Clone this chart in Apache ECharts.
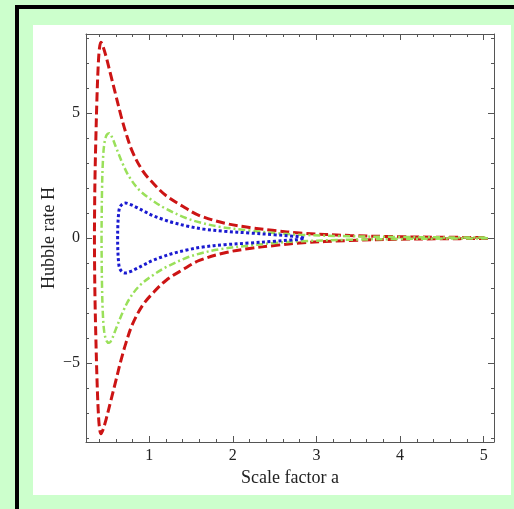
<!DOCTYPE html>
<html>
<head>
<meta charset="utf-8">
<title>Hubble rate vs scale factor</title>
<script src="https://cdn.jsdelivr.net/npm/echarts@6/dist/echarts.min.js"></script>
<style>
  html, body { margin: 0; padding: 0; background: #ccffcc; }
  #main { width: 514px; height: 509px; }
</style>
</head>
<body>
<div id="main"></div>
<script>
// upper branches (H >= 0), lower branches are the mirror image
var redA   = [0.345, 0.347, 0.352, 0.362, 0.375, 0.39, 0.405, 0.423, 0.45, 0.483, 0.542, 0.602, 0.662, 0.722, 0.80, 0.92, 1.04, 1.2, 1.4, 1.6, 1.92, 2.2, 2.5, 2.8, 3.4, 4.0, 4.5, 5.05];
var redH   = [0, 1.2, 2.5, 4.0, 5.6, 6.9, 7.6, 7.84, 7.65, 7.28, 6.5, 5.7, 4.9, 4.2, 3.45, 2.7, 2.22, 1.7, 1.27, 0.9, 0.58, 0.42, 0.3, 0.2, 0.1, 0.05, 0.03, 0.02];

var greenA = [0.430, 0.432, 0.436, 0.445, 0.462, 0.49, 0.522, 0.56, 0.602, 0.682, 0.761, 0.881, 1.04, 1.2, 1.44, 1.61, 1.84, 2.2, 2.5, 2.8, 3.4, 4.0, 4.5, 5.05];
var greenH = [0, 1.0, 2.0, 3.0, 3.75, 4.12, 4.2, 4.0, 3.64, 2.98, 2.45, 1.92, 1.5, 1.17, 0.8, 0.62, 0.45, 0.3, 0.2, 0.13, 0.07, 0.04, 0.025, 0.015];

var blueA  = [0.622, 0.625, 0.632, 0.645, 0.675, 0.715, 0.77, 0.84, 0.94, 1.04, 1.16, 1.28, 1.45, 1.64, 1.9, 2.2, 2.5, 2.7, 2.8, 2.85];
var blueH  = [0, 0.5, 0.9, 1.2, 1.35, 1.40, 1.35, 1.24, 1.07, 0.9, 0.75, 0.62, 0.48, 0.36, 0.27, 0.2, 0.13, 0.08, 0.045, 0];

var xMajor = [1, 2, 3, 4, 5];
var xMinor = [0.4, 0.6, 0.8, 1.2, 1.4, 1.6, 1.8, 2.2, 2.4, 2.6, 2.8, 3.2, 3.4, 3.6, 3.8, 4.2, 4.4, 4.6, 4.8, 5.0];
var yMajor = [-5, 0, 5];
var yMinor = [-8, -7, -6, -4, -3, -2, -1, 1, 2, 3, 4, 6, 7, 8];

var xLabel = 'Scale factor a';
var yLabel = 'Hubble rate H';

// open curves: lower branch back to a_min, then upper branch out again
function openCurve(a, h) {
    var pts = [];
    for (var i = a.length - 1; i >= 0; i--) pts.push([a[i], -h[i]]);
    for (var j = 1; j < a.length; j++) pts.push([a[j], h[j]]);
    return pts;
}
// closed loop, same idea (the last point of a and h is the tip at H = 0)
function closedCurve(a, h) {
    var pts = [];
    for (var i = a.length - 1; i >= 0; i--) pts.push([a[i], h[i]]);
    for (var j = 1; j < a.length; j++) pts.push([a[j], -h[j]]);
    return pts;
}

var myChart = echarts.init(document.getElementById('main'));

var font = 'Liberation Serif';
var frameColor = '#555';

function xAxisDef(pos, ticks, len, withLine, withLabel) {
    return {
        type: 'value', position: pos, min: 0.244, max: 5.123,
        axisLine: { show: withLine, onZero: false, lineStyle: { color: frameColor, width: 1 } },
        axisTick: { show: true, inside: true, length: len, customValues: ticks,
            lineStyle: { color: frameColor, width: 1 } },
        axisLabel: withLabel ? {
            show: true, customValues: xMajor, margin: 6,
            fontFamily: font, fontSize: 16, color: '#222'
        } : { show: false },
        splitLine: { show: false }
    };
}
function yAxisDef(pos, ticks, len, withLine, withLabel) {
    return {
        type: 'value', position: pos, min: -8.17, max: 8.17,
        axisLine: { show: withLine, onZero: false, lineStyle: { color: frameColor, width: 1 } },
        axisTick: { show: true, inside: true, length: len, customValues: ticks,
            lineStyle: { color: frameColor, width: 1 } },
        axisLabel: withLabel ? {
            show: true, customValues: yMajor, margin: 6,
            fontFamily: font, fontSize: 16, color: '#222',
            formatter: function (v) { return v < 0 ? '\u2212' + (-v) : String(v); }
        } : { show: false },
        splitLine: { show: false }
    };
}

var xBottom = xAxisDef('bottom', xMajor, 6, true, true);
xBottom.name = xLabel;
xBottom.nameLocation = 'middle';
xBottom.nameGap = 26;
xBottom.nameTextStyle = { fontFamily: font, fontSize: 18, color: '#222' };

var yLeft = yAxisDef('left', yMajor, 6, true, true);
yLeft.name = yLabel;
yLeft.nameLocation = 'middle';
yLeft.nameGap = 28;
yLeft.nameMoveOverlap = false;
yLeft.nameTextStyle = { fontFamily: font, fontSize: 18, color: '#222' };

var option = {
    animation: false,
    backgroundColor: '#ccffcc',
    graphic: [
        { type: 'rect', z: -10, shape: { x: 15, y: 5, width: 499, height: 4 }, style: { fill: '#000' } },
        { type: 'rect', z: -10, shape: { x: 15, y: 5, width: 4, height: 504 }, style: { fill: '#000' } },
        { type: 'rect', z: -10, shape: { x: 33, y: 25, width: 478, height: 470 }, style: { fill: '#fff' } }
    ],
    grid: { left: 86, right: 20, top: 34, bottom: 67, containLabel: false },
    xAxis: [
        xBottom,
        xAxisDef('bottom', xMinor, 3, false, false),
        xAxisDef('top', xMajor, 6, true, false),
        xAxisDef('top', xMinor, 3, false, false)
    ],
    yAxis: [
        yLeft,
        yAxisDef('left', yMinor, 3, false, false),
        yAxisDef('right', yMajor, 6, true, false),
        yAxisDef('right', yMinor, 3, false, false)
    ],
    series: [
        {
            name: 'red', type: 'line', data: openCurve(redA, redH),
            showSymbol: false, smooth: 0.35, clip: true,
            lineStyle: { color: '#cc1414', width: 3, type: [9, 4] }
        },
        {
            name: 'green', type: 'line', data: openCurve(greenA, greenH),
            showSymbol: false, smooth: 0.35, clip: true,
            lineStyle: { color: '#9ae05a', width: 2.5, type: [7, 3, 2, 3] }
        },
        {
            name: 'blue', type: 'line', data: closedCurve(blueA, blueH),
            showSymbol: false, smooth: 0.35, clip: true,
            lineStyle: { color: '#1a1ad0', width: 3, type: [3, 2.5] }
        }
    ]
};
myChart.setOption(option);
</script>
</body>
</html>
